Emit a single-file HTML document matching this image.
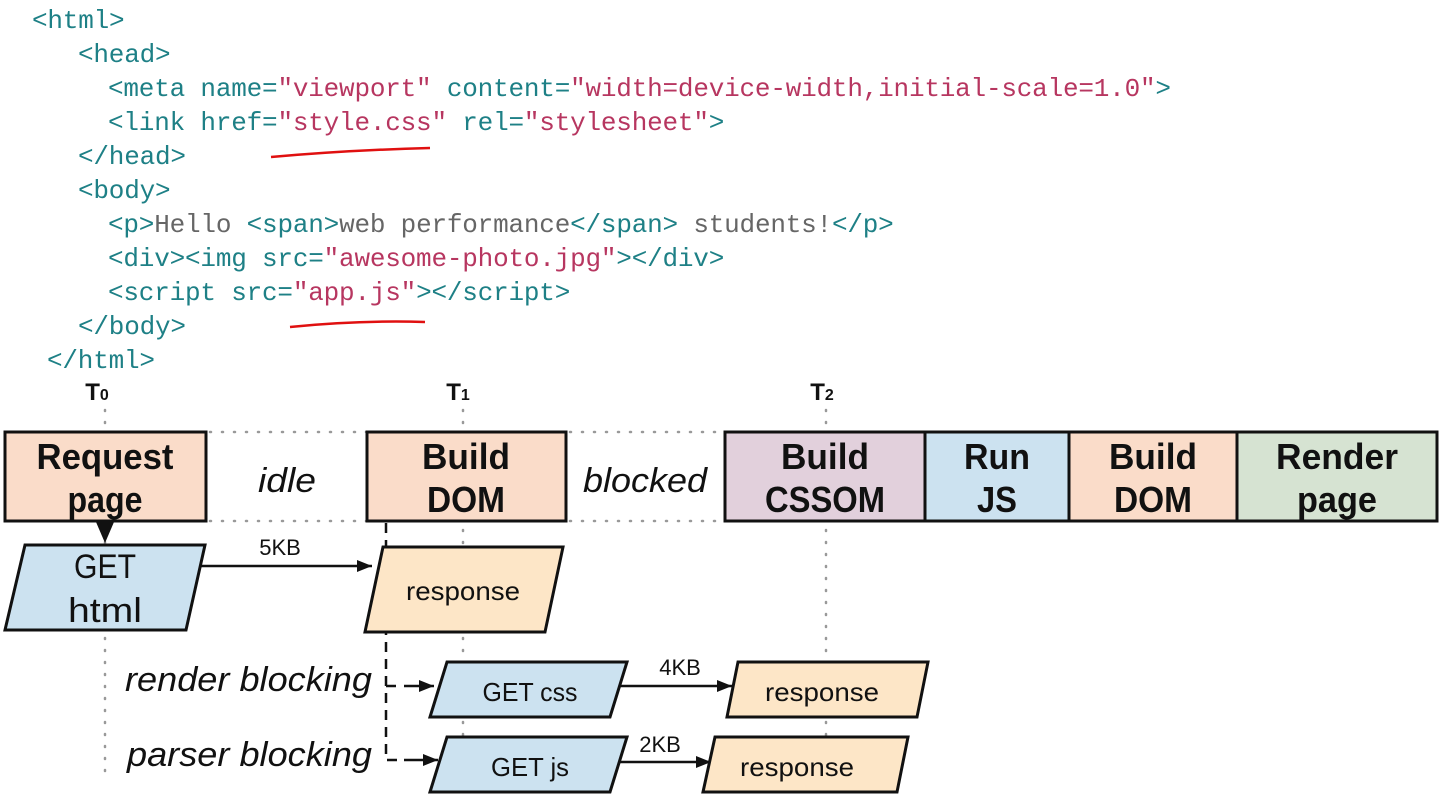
<!DOCTYPE html>
<html><head><meta charset="utf-8"><style>
html,body{margin:0;padding:0;background:#fff;width:1447px;height:798px;overflow:hidden}
.c{font-family:"Liberation Mono",monospace;font-size:26px;letter-spacing:-0.2px}
.t{fill:#1e8086}.s{fill:#b73660}.g{fill:#666}
.b{font-family:"Liberation Sans",sans-serif;font-weight:bold;font-size:36px;fill:#111;text-anchor:middle}
.n{font-family:"Liberation Sans",sans-serif;font-size:34px;fill:#111;text-anchor:middle}
.m{font-family:"Liberation Sans",sans-serif;font-size:26px;fill:#111;text-anchor:middle}
.k{font-family:"Liberation Sans",sans-serif;font-size:22px;fill:#111;text-anchor:middle}
.i{font-family:"Liberation Sans",sans-serif;font-style:italic;font-size:34px;fill:#111}
.l{font-family:"Liberation Sans",sans-serif;font-weight:bold;font-size:24px;fill:#111;text-anchor:middle}
</style></head><body>
<svg width="1447" height="798" xmlns="http://www.w3.org/2000/svg">
<defs><marker id="a" markerWidth="16" markerHeight="14" refX="15" refY="7" orient="auto" markerUnits="userSpaceOnUse"><path d="M0,1 L15,7 L0,13 z" fill="#111"/></marker></defs>
<g class="c" xml:space="preserve">
<text x="32" y="28" class="t">&lt;html&gt;</text>
<text x="78" y="62" class="t">&lt;head&gt;</text>
<text x="108" y="96"><tspan class="t">&lt;meta name=</tspan><tspan class="s">"viewport"</tspan><tspan class="t"> content=</tspan><tspan class="s">"width=device-width,initial-scale=1.0"</tspan><tspan class="t">&gt;</tspan></text>
<text x="108" y="130"><tspan class="t">&lt;link href=</tspan><tspan class="s">"style.css"</tspan><tspan class="t"> rel=</tspan><tspan class="s">"stylesheet"</tspan><tspan class="t">&gt;</tspan></text>
<text x="78" y="164" class="t">&lt;/head&gt;</text>
<text x="78" y="198" class="t">&lt;body&gt;</text>
<text x="108" y="232"><tspan class="t">&lt;p&gt;</tspan><tspan class="g">Hello </tspan><tspan class="t">&lt;span&gt;</tspan><tspan class="g">web performance</tspan><tspan class="t">&lt;/span&gt;</tspan><tspan class="g"> students!</tspan><tspan class="t">&lt;/p&gt;</tspan></text>
<text x="108" y="266"><tspan class="t">&lt;div&gt;&lt;img src=</tspan><tspan class="s">"awesome-photo.jpg"</tspan><tspan class="t">&gt;&lt;/div&gt;</tspan></text>
<text x="108" y="300"><tspan class="t">&lt;script src=</tspan><tspan class="s">"app.js"</tspan><tspan class="t">&gt;&lt;/script&gt;</tspan></text>
<text x="78" y="334" class="t">&lt;/body&gt;</text>
<text x="47" y="368" class="t">&lt;/html&gt;</text>
</g>
<path d="M271,157 Q350,150 430,148" stroke="#e01010" stroke-width="2.5" fill="none"/>
<path d="M290,327 Q360,320 425,322" stroke="#e01010" stroke-width="2.5" fill="none"/>

<text x="97" y="400" class="l">T<tspan font-size="16">0</tspan></text>
<text x="458" y="400" class="l">T<tspan font-size="16">1</tspan></text>
<text x="822" y="400" class="l">T<tspan font-size="16">2</tspan></text>
<g stroke="#999" stroke-width="2.5" stroke-dasharray="1,11" stroke-linecap="round" fill="none">
<line x1="105" y1="410" x2="105" y2="778"/>
<line x1="463" y1="410" x2="463" y2="778"/>
<line x1="826" y1="410" x2="826" y2="778"/>
<line x1="210" y1="432" x2="367" y2="432"/><line x1="210" y1="521" x2="367" y2="521"/>
<line x1="570" y1="432" x2="725" y2="432"/><line x1="570" y1="521" x2="725" y2="521"/>
</g>
<g stroke="#111" stroke-width="3">
<rect x="5" y="432" width="201" height="89" fill="#fadcc9"/>
<rect x="367" y="432" width="199" height="89" fill="#fadcc9"/>
<rect x="725" y="432" width="200" height="89" fill="#e2d0dc"/>
<rect x="925" y="432" width="144" height="89" fill="#cce2f0"/>
<rect x="1069" y="432" width="168" height="89" fill="#fadcc9"/>
<rect x="1237" y="432" width="200" height="89" fill="#d6e3d2"/>
</g>
<text class="b" x="105" y="469" textLength="137" lengthAdjust="spacingAndGlyphs">Request</text><text class="b" x="105" y="512" textLength="75" lengthAdjust="spacingAndGlyphs">page</text>
<text class="b" x="466" y="469" textLength="88" lengthAdjust="spacingAndGlyphs">Build</text><text class="b" x="466" y="512" textLength="78" lengthAdjust="spacingAndGlyphs">DOM</text>
<text class="b" x="825" y="469" textLength="88" lengthAdjust="spacingAndGlyphs">Build</text><text class="b" x="825" y="512" textLength="120" lengthAdjust="spacingAndGlyphs">CSSOM</text>
<text class="b" x="997" y="469" textLength="66" lengthAdjust="spacingAndGlyphs">Run</text><text class="b" x="997" y="512" textLength="40" lengthAdjust="spacingAndGlyphs">JS</text>
<text class="b" x="1153" y="469" textLength="88" lengthAdjust="spacingAndGlyphs">Build</text><text class="b" x="1153" y="512" textLength="78" lengthAdjust="spacingAndGlyphs">DOM</text>
<text class="b" x="1337" y="469" textLength="122" lengthAdjust="spacingAndGlyphs">Render</text><text class="b" x="1337" y="512" textLength="80" lengthAdjust="spacingAndGlyphs">page</text>
<text class="i" x="287" y="492" text-anchor="middle" textLength="58" lengthAdjust="spacingAndGlyphs">idle</text>
<text class="i" x="645" y="492" text-anchor="middle" textLength="124" lengthAdjust="spacingAndGlyphs">blocked</text>

<path d="M96,522 L114,522 L105,543 z" fill="#111"/>
<g stroke="#111" stroke-width="2.5" fill="none">
<line x1="200" y1="566" x2="372" y2="566" marker-end="url(#a)"/>
<line x1="620" y1="686" x2="732" y2="686" marker-end="url(#a)"/>
<line x1="618" y1="762" x2="711" y2="762" marker-end="url(#a)"/>
<path d="M386,523 V760 H398" stroke-dasharray="10,7"/>
<path d="M386,686 H398" stroke-dasharray="10,7"/>
<line x1="404" y1="686" x2="434" y2="686" marker-end="url(#a)"/>
<line x1="404" y1="760" x2="438" y2="760" marker-end="url(#a)"/>
</g>
<text class="k" x="280" y="555">5KB</text>
<text class="k" x="680" y="675">4KB</text>
<text class="k" x="660" y="752">2KB</text>

<g stroke="#111" stroke-width="3">
<polygon points="25,545 205,545 186,630 5,630" fill="#cce2f0"/>
<polygon points="383,547 563,547 545,632 365,632" fill="#fde6c7"/>
<polygon points="447,662 627,662 610,717 430,717" fill="#cce2f0"/>
<polygon points="738,662 928,662 917,717 727,717" fill="#fde6c7"/>
<polygon points="447,737 627,737 610,792 430,792" fill="#cce2f0"/>
<polygon points="715,737 908,737 897,792 703,792" fill="#fde6c7"/>
</g>
<text class="n" x="105" y="578" textLength="62" lengthAdjust="spacingAndGlyphs">GET</text><text class="n" x="105" y="622" textLength="74" lengthAdjust="spacingAndGlyphs">html</text>
<text class="m" x="463" y="600" textLength="114" lengthAdjust="spacingAndGlyphs">response</text>
<text class="m" x="530" y="701" textLength="95" lengthAdjust="spacingAndGlyphs">GET css</text>
<text class="m" x="822" y="701" textLength="114" lengthAdjust="spacingAndGlyphs">response</text>
<text class="m" x="530" y="776" textLength="78" lengthAdjust="spacingAndGlyphs">GET js</text>
<text class="m" x="797" y="776" textLength="114" lengthAdjust="spacingAndGlyphs">response</text>
<text class="i" x="125" y="691" textLength="247" lengthAdjust="spacingAndGlyphs">render blocking</text>
<text class="i" x="127" y="766" textLength="245" lengthAdjust="spacingAndGlyphs">parser blocking</text>
</svg>
</body></html>
